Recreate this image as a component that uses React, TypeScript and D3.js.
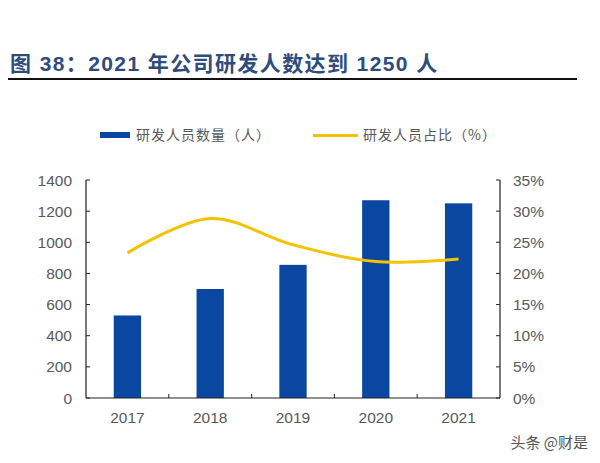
import React from "react";
import * as d3 from "d3";

const years = ["2017", "2018", "2019", "2020", "2021"];
const staffCount = [530, 700, 855, 1270, 1250];
const staffRatio = [23.3, 28.8, 24.6, 21.9, 22.3];
const leftTicks = [0, 200, 400, 600, 800, 1000, 1200, 1400];
const rightTicks = [0, 5, 10, 15, 20, 25, 30, 35];

const W = 600;
const H = 463;
const M = { left: 86, right: 500, top: 180, bottom: 398 };
const BLUE = "#0A47A0";
const GOLD = "#F3C300";
const TXT = "#595959";
const FONT = "Arial, 'Liberation Sans', 'Noto Sans CJK SC', sans-serif";

export default function App() {
  const x = d3.scaleBand<string>().domain(years).range([M.left, M.right]).paddingInner(0.67).paddingOuter(0.335);
  const xc = d3.scaleBand<string>().domain(years).range([M.left, M.right]);
  const yL = d3.scaleLinear().domain([0, 1400]).range([M.bottom, M.top]);
  const yR = d3.scaleLinear().domain([0, 35]).range([M.bottom, M.top]);
  const line = d3
    .line<number>()
    .x((_, i) => (xc(years[i]) as number) + xc.bandwidth() / 2)
    .y((d) => yR(d))
    .curve(d3.curveCatmullRom.alpha(0.5));

  return (
    <svg width={W} height={H} style={{ position: "absolute", left: 0, top: 0, background: "#fff" }}>
      <text
        x={10}
        y={71}
        fontFamily="'Liberation Sans', 'Noto Sans CJK SC', sans-serif"
        fontWeight="bold"
        fontSize={21}
        letterSpacing={1.4}
        fill="#2F4C7C"
      >
        图 38：2021 年公司研发人数达到 1250 人
      </text>
      <line x1={8} x2={577} y1={79} y2={79} stroke="#111" strokeWidth={2} />

      {/* legend */}
      <rect x={100} y={132} width={30} height={6} fill={BLUE} />
      <text x={136} y={140} fontFamily="'Noto Sans CJK SC', serif" fontSize={14} letterSpacing={1} fill={TXT}>
        研发人员数量（人）
      </text>
      <line x1={313} x2={358} y1={135.5} y2={135.5} stroke={GOLD} strokeWidth={3} />
      <text x={363} y={140} fontFamily="'Noto Sans CJK SC', serif" fontSize={14} letterSpacing={1} fill={TXT}>
        研发人员占比（%）
      </text>

      {/* bars */}
      {staffCount.map((v, i) => (
        <rect key={years[i]} x={x(years[i])} y={yL(v)} width={x.bandwidth()} height={yL(0) - yL(v)} fill={BLUE} />
      ))}

      {/* line */}
      <path d={line(staffRatio) || ""} fill="none" stroke={GOLD} strokeWidth={3} />

      {/* axes */}
      <line x1={M.left} x2={M.left} y1={M.top} y2={M.bottom} stroke="#222" strokeWidth={1.2} />
      <line x1={M.right} x2={M.right} y1={M.top} y2={M.bottom} stroke="#222" strokeWidth={1.2} />
      <line x1={M.left} x2={M.right} y1={M.bottom} y2={M.bottom} stroke="#222" strokeWidth={1.2} />
      {leftTicks.map((t) => (
        <g key={"l" + t}>
          <line x1={M.left} x2={M.left + 4} y1={yL(t)} y2={yL(t)} stroke="#222" />
          <text x={72} y={yL(t) + 5.5} textAnchor="end" fontFamily={FONT} fontSize={15.5} fill={TXT}>
            {t}
          </text>
        </g>
      ))}
      {rightTicks.map((t) => (
        <g key={"r" + t}>
          <line x1={M.right - 4} x2={M.right} y1={yR(t)} y2={yR(t)} stroke="#222" />
          <text x={513} y={yR(t) + 5.5} textAnchor="start" fontFamily={FONT} fontSize={15.5} fill={TXT}>
            {t + "%"}
          </text>
        </g>
      ))}
      {years.slice(1).map((yr) => (
        <line key={"xt" + yr} x1={xc(yr)} x2={xc(yr)} y1={M.bottom - 4} y2={M.bottom} stroke="#222" />
      ))}
      {years.map((yr) => (
        <text
          key={"xl" + yr}
          x={(xc(yr) as number) + xc.bandwidth() / 2}
          y={423}
          textAnchor="middle"
          fontFamily={FONT}
          fontSize={15.5}
          fill={TXT}
        >
          {yr}
        </text>
      ))}

      <text x={588} y={448} textAnchor="end" fontFamily="'Noto Sans CJK SC', sans-serif" fontSize={15} fill="#555">
        头条 @财是
      </text>
    </svg>
  );
}
